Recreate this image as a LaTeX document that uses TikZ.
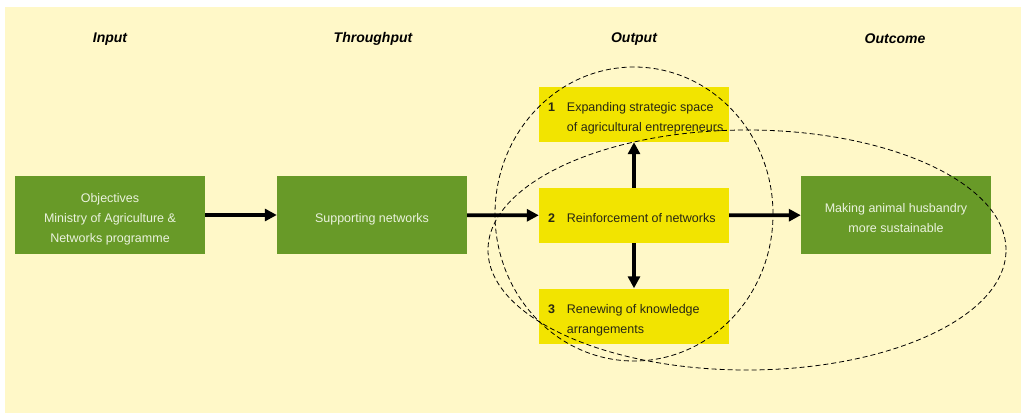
\documentclass[tikz,border=0pt]{standalone}
\usepackage{fontspec}
\setmainfont{Liberation Sans}
\usetikzlibrary{arrows.meta}
\definecolor{bgyellow}{RGB}{255,248,200}
\definecolor{boxgreen}{RGB}{104,154,40}
\definecolor{boxyellow}{RGB}{242,228,0}
\definecolor{lighttext}{RGB}{234,242,222}
\definecolor{darktext}{RGB}{40,40,20}
\tikzset{
  greenbox/.style={fill=boxgreen, text=lighttext, minimum width=190pt, minimum height=78pt, inner sep=0pt, font=\fontsize{12.5}{20}\selectfont},
  yellowbox/.style={fill=boxyellow, text=darktext, minimum width=190pt, minimum height=55pt, inner sep=0pt, font=\fontsize{12.5}{20}\selectfont},
  phase/.style={font=\fontsize{14}{16}\selectfont\bfseries\itshape},
  flow/.style={line width=3.8pt, -{Triangle[length=12pt,width=12pt]}},
  zone/.style={line width=0.8pt, dash pattern=on 5pt off 3pt}
}
% extra room above the text pushes it a little lower in its box
\newcommand{\boxtext}[1]{\raisebox{0pt}[\dimexpr\height+7pt\relax][\depth]{\begin{tabular}{@{}c@{}}#1\end{tabular}}}
\newcommand{\outitem}[2]{\raisebox{0pt}[\dimexpr\height+6pt\relax][\depth]{\makebox[172pt][l]{\begin{tabular}{@{}l@{\hspace{12pt}}l@{}}\textbf{#1} & #2\end{tabular}}}}
\begin{document}
\begin{tikzpicture}[x=1pt, y=-1pt]
  \fill[white] (0,0) rectangle (1026,413);
  \fill[bgyellow] (5,7) rectangle (1021,413);
  \useasboundingbox (0,0) rectangle (1026,413);

  % column headings
  \node[phase] (hin) at (110,39) {Input};
  \node[phase] (hthru) at (373,39) {Throughput};
  \node[phase] (hout) at (634,39) {Output};
  \node[phase] (hcome) at (895,39) {Outcome};

  \node[greenbox] (obj) at (110,215) {\boxtext{Objectives\\Ministry of Agriculture \&\\Networks programme}};
  \node[greenbox] (supp) at (372,215) {\boxtext{Supporting networks}};
  \node[yellowbox] (space) at (634,114.5) {\outitem{1}{Expanding strategic space\\ & of agricultural entrepreneurs}};
  \node[yellowbox] (reinf) at (634,215.5) {\outitem{2}{Reinforcement of networks}};
  \node[yellowbox] (renew) at (634,316) {\outitem{3}{Renewing of knowledge\\ & arrangements}};
  \node[greenbox] (sust) at (896,215) {\boxtext{Making animal husbandry\\more sustainable}};

  \draw[flow] (obj) -- (supp);
  \draw[flow] (supp) -- (reinf);
  \draw[flow] (reinf) -- (sust);
  \draw[flow] (reinf) -- (space);
  \draw[flow] (reinf) -- (renew);

  \draw[zone] (634,214) ellipse (139pt and 147pt);
  \draw[zone] (747,250) ellipse (259pt and 120pt);
\end{tikzpicture}
\end{document}
